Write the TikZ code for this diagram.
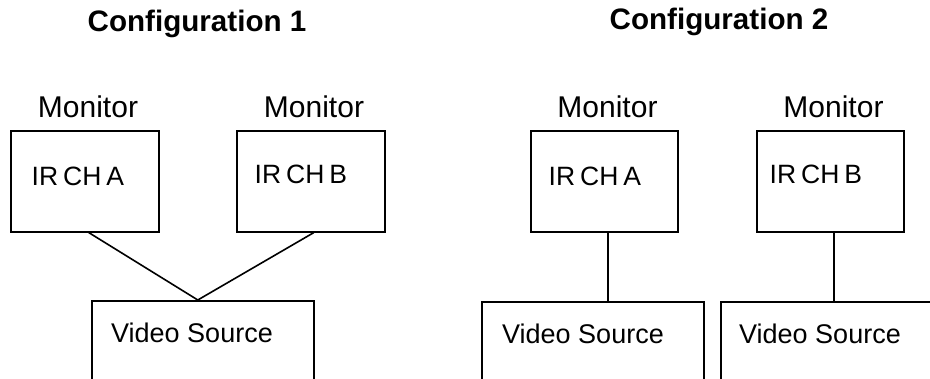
\documentclass[tikz,border=0pt]{standalone}
\usepackage{fontspec}
\setmainfont{Liberation Sans}
\usetikzlibrary{calc}
\begin{document}
\begin{tikzpicture}[x=1pt,y=-1pt,
  box/.style={draw=black,line width=1.6pt,rectangle,inner sep=0pt,anchor=north west},
  wire/.style={draw=black,line width=1.6pt},
  title/.style={font=\fontsize{29.6}{34}\selectfont\bfseries,anchor=base,inner sep=0pt},
  mon/.style={font=\fontsize{30}{36}\selectfont,anchor=base,inner sep=0pt},
  lbl/.style={font=\fontsize{27}{32}\selectfont,anchor=base west,inner sep=0pt},
  irl/.style={font=\fontsize{26.5}{32}\selectfont,execute at begin node={\spaceskip=5pt\relax},anchor=base west,inner sep=0pt}]
\useasboundingbox (0,0) rectangle (930,379);
\clip (0,0) rectangle (930,379);
% titles
\node[title] (t1) at (197,32) {Configuration 1};
\node[title] (t2) at (719,30) {Configuration 2};
% configuration 1
\node[mon] (m1a) at (88,118) {Monitor};
\node[mon] (m1b) at (314,118) {Monitor};
\node[box,minimum width=148pt,minimum height=101pt] (a1) at (10,130) {};
\node[box,minimum width=148pt,minimum height=101pt] (b1) at (236,130) {};
\node[irl] (la1) at (31.5,186) {IR CH A};
\node[irl] (lb1) at (254.5,184) {IR CH B};
\node[box,minimum width=222pt,minimum height=100pt] (v1) at (91,300) {};
\node[lbl] (lv1) at (111,343) {Video Source};
\coordinate (j1) at ([xshift=-5pt]v1.north);
\draw[wire] ([xshift=4pt]a1.south) -- (j1);
\draw[wire] ([xshift=3pt]b1.south) -- (j1);
% configuration 2
\node[mon] (m2a) at (607.5,118) {Monitor};
\node[mon] (m2b) at (833.5,118) {Monitor};
\node[box,minimum width=147pt,minimum height=101pt] (a2) at (530,130) {};
\node[box,minimum width=147pt,minimum height=101pt] (b2) at (756,130) {};
\node[irl] (la2) at (548.5,186) {IR CH A};
\node[irl] (lb2) at (769.5,184) {IR CH B};
\node[box,minimum width=222pt,minimum height=100pt] (v2a) at (481,301) {};
\node[box,minimum width=222pt,minimum height=100pt] (v2b) at (720,301) {};
\node[lbl] (lv2a) at (502,344) {Video Source};
\node[lbl] (lv2b) at (739,344) {Video Source};
\draw[wire] ([xshift=3.5pt]a2.south) -- ([xshift=3.5pt]a2.south |- v2a.north);
\draw[wire] ([xshift=3.5pt]b2.south) -- ([xshift=3.5pt]b2.south |- v2b.north);
\end{tikzpicture}
\end{document}
